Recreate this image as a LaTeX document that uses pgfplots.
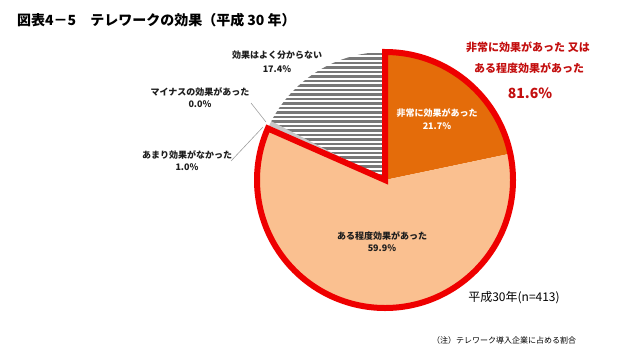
\documentclass[border=0pt]{standalone}
\usepackage{pgfplots}
\pgfplotsset{compat=1.18}
\usepackage{fontspec}
\setmainfont{Noto Sans CJK JP}
\definecolor{cA}{RGB}{228,108,10}
\definecolor{cB}{RGB}{250,192,144}
\definecolor{cC}{RGB}{200,200,200}
\definecolor{cE}{RGB}{120,120,120}
\definecolor{redline}{RGB}{238,0,0}
\definecolor{redtext}{RGB}{195,15,15}
\definecolor{lab}{RGB}{30,30,30}
\definecolor{leader}{RGB}{160,160,160}
\begin{document}
\begin{tikzpicture}
\begin{axis}[x=1pt,y=1pt,y dir=reverse,xmin=0,xmax=618,ymin=0,ymax=357,
  hide axis,clip=false]
\path (axis cs:0,0) rectangle (axis cs:618,357);
% pie: shares in percent, clockwise from 12 o'clock: 21.7, 59.9, 1.0, 0.0, 17.4
\fill[cA] (axis cs:385,180) -- ++(90:128pt)
  arc[start angle=90, delta angle={-3.6*21.7}, radius=128pt] -- cycle;
\fill[cB] (axis cs:385,180) -- ++({90-3.6*21.7}:128pt)
  arc[start angle={90-3.6*21.7}, delta angle={-3.6*59.9}, radius=128pt] -- cycle;
\fill[cC] (axis cs:385,180) -- ++({90-3.6*(21.7+59.9)}:128pt)
  arc[start angle={90-3.6*(21.7+59.9)}, delta angle={-3.6*1.0}, radius=128pt] -- cycle;
\begin{scope}
\clip (axis cs:385,180) -- ++({90-3.6*(21.7+59.9+1.0+0.0)}:128pt)
  arc[start angle={90-3.6*(21.7+59.9+1.0+0.0)}, delta angle={-3.6*17.4}, radius=128pt] -- cycle;
\pgfplotsinvokeforeach{48,52.5,...,184}{
  \fill[cE] (axis cs:240,#1) rectangle (axis cs:390,#1+2.7);
}
\end{scope}
% outline of 81.6%
\draw[redline,line width=6pt,line join=miter] (axis cs:385,180) -- ++(90:128pt)
  arc[start angle=90, delta angle={-3.6*(21.7+59.9)}, radius=128pt] -- cycle;
% leader lines
\draw[leader,line width=0.6pt] (axis cs:251,103) -- (axis cs:266,122);
\draw[leader,line width=0.6pt] (axis cs:231,161) -- (axis cs:263,127);
% labels
\node[text=white,font=\fontsize{9}{10}\selectfont\bfseries] at (axis cs:437,113) {非常に効果があった};
\node[text=white,font=\fontsize{9}{10}\selectfont\bfseries] at (axis cs:437,126) {21.7\%};
\node[text=lab,font=\fontsize{9}{10}\selectfont\bfseries] at (axis cs:382,236) {ある程度効果があった};
\node[text=lab,font=\fontsize{9}{10}\selectfont\bfseries] at (axis cs:382,248) {59.9\%};
\node[text=lab,font=\fontsize{9}{10}\selectfont\bfseries] at (axis cs:277,55) {効果はよく分からない};
\node[text=lab,font=\fontsize{9}{10}\selectfont\bfseries] at (axis cs:277,69) {17.4\%};
\node[text=lab,font=\fontsize{9}{10}\selectfont\bfseries] at (axis cs:200,92) {マイナスの効果があった};
\node[text=lab,font=\fontsize{9}{10}\selectfont\bfseries] at (axis cs:200,104) {0.0\%};
\node[text=lab,font=\fontsize{9}{10}\selectfont\bfseries] at (axis cs:187,155) {あまり効果がなかった};
\node[text=lab,font=\fontsize{9}{10}\selectfont\bfseries] at (axis cs:187,167) {1.0\%};
\node[text=redtext,font=\fontsize{11}{12}\selectfont\bfseries] at (axis cs:528,47) {非常に効果があった 又は};
\node[text=redtext,font=\fontsize{11}{12}\selectfont\bfseries] at (axis cs:529,68) {ある程度効果があった};
\node[text=redtext,font=\fontsize{14}{15}\selectfont\bfseries] at (axis cs:530,93) {81.6\%};
\node[text=black,font=\fontsize{12}{13}\selectfont] at (axis cs:514,298) {平成30年(n=413)};
\node[text=black,font=\fontsize{8}{9}\selectfont] at (axis cs:504,340) {（注）テレワーク導入企業に占める割合};
\node[text=black,font=\fontsize{14}{15}\selectfont\bfseries,anchor=west,inner sep=0pt] at (axis cs:17,20) {図表4－5　テレワークの効果（平成 30 年）};
\end{axis}
\end{tikzpicture}
\end{document}
